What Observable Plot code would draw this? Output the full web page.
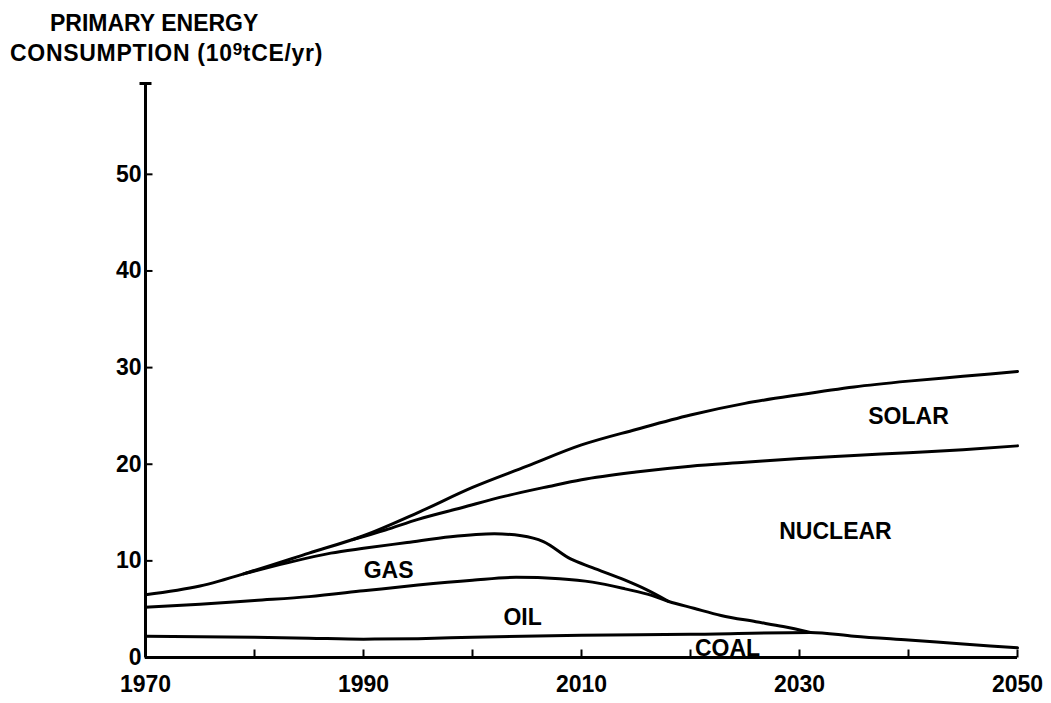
<!DOCTYPE html>
<html>
<head>
<meta charset="utf-8">
<script src="https://cdn.jsdelivr.net/npm/d3@7"></script>
<script src="https://cdn.jsdelivr.net/npm/@observablehq/plot@0.6"></script>
<style>
  html, body { margin: 0; padding: 0; background: #fff; }
  #wrap { width: 1051px; height: 703px; position: relative; overflow: hidden; background: #fff; }
  #title { position: relative; height: 70px; font-family: "Liberation Sans", Arial, sans-serif; font-weight: bold; font-size: 23px; color: #000; }
  #title .l { position: absolute; white-space: nowrap; line-height: 23px; }
  #title sup { font-size: 17px; vertical-align: 6px; line-height: 0; }
</style>
</head>
<body>
<div id="wrap">
  <div id="title">
    <span class="l" style="left:50px;top:12px">PRIMARY ENERGY</span>
    <span class="l" style="left:10px;top:42px;letter-spacing:0.7px">CONSUMPTION (10<sup>9</sup>tCE/yr)</span>
  </div>
  <div id="chart"></div>
</div>
<script>
// ---- data (year, 10^9 tCE/yr) ----
// top of the stack (solar / total)
const solarTop = [[1970,6.5],[1975,7.4],[1980,9.0],[1985,10.8],[1990,12.6],[1995,15.0],[2000,17.6],[2005,19.8],[2010,22.0],[2015,23.6],[2020,25.1],[2025,26.3],[2030,27.2],[2035,28.0],[2040,28.6],[2045,29.1],[2050,29.6]];
// solar / nuclear boundary
const nuclearTop = [[1989,12.2],[1992,13.2],[1995,14.3],[1999,15.5],[2003,16.7],[2007,17.7],[2010,18.4],[2015,19.2],[2020,19.8],[2025,20.2],[2030,20.6],[2035,20.9],[2040,21.2],[2045,21.5],[2050,21.9]];
// nuclear / gas boundary
const gasTop = [[1979,8.65],[1983,9.8],[1987,10.8],[1990,11.3],[1994,11.9],[1998,12.5],[2002,12.8],[2004.5,12.6],[2006.5,12.0],[2009,10.2],[2011,9.3],[2014,8.0],[2016,7.0],[2018,5.8]];
// gas / oil boundary
const oilTop = [[1970,5.2],[1975,5.5],[1980,5.9],[1985,6.3],[1990,6.9],[1995,7.5],[2000,8.0],[2004,8.3],[2008,8.15],[2011,7.8],[2014,7.1],[2016.5,6.4],[2018,5.8],[2020.3,5.1],[2022.8,4.35],[2026,3.7],[2028.5,3.2],[2031,2.6]];
// oil / coal boundary
const coalTop = [[1970,2.2],[1980,2.1],[1985,2.0],[1990,1.9],[1995,1.95],[2000,2.1],[2010,2.3],[2020,2.4],[2031,2.6],[2035,2.2],[2040,1.8],[2045,1.4],[2050,1.0]];

const labelText  = ["SOLAR", "NUCLEAR", "GAS", "OIL", "COAL"];
const labelYear  = [2040, 2033.3, 1992.3, 2004.6, 2023.4];
const labelValue = [24.9, 13.0, 9.0, 4.1, 0.95];

const xTickLabels = [1970, 1990, 2010, 2030, 2050];
const xMinorTicks = [1970, 1980, 1990, 2000, 2010, 2020, 2030, 2040, 2050];
const yTickLabels = [0, 10, 20, 30, 40, 50];
const xDomain = [1970, 2050];
const yDomain = [0, 59.4];

// ---- drawing ----
const FONT = "Liberation Sans, Arial, sans-serif";
const hLine = { draw(ctx, size) { const r = Math.sqrt(size / Math.PI); ctx.moveTo(-r, 0); ctx.lineTo(r, 0); } };
const vLine = { draw(ctx, size) { const r = Math.sqrt(size / Math.PI); ctx.moveTo(0, -r); ctx.lineTo(0, r); } };

const labels = labelText.map((t, i) => ({ t, x: labelYear[i], y: labelValue[i] }));
const curveOpts = { x: d => d[0], y: d => d[1], curve: "monotone-x", stroke: "#000", strokeWidth: 3, strokeLinejoin: "round", strokeLinecap: "round" };
const textStyle = { fontSize: 23, fontWeight: "bold", fontFamily: FONT, fill: "#000" };

const plot = Plot.plot({
  width: 1051,
  height: 633,
  marginLeft: 145,
  marginRight: 34,
  marginTop: 13,
  marginBottom: 46,
  x: { domain: xDomain },
  y: { domain: yDomain },
  marks: [
    Plot.axisX(xTickLabels, { tickSize: 0, tickPadding: 18, tickFormat: "d", label: null, ...textStyle }),
    Plot.axisY(yTickLabels, { tickSize: 0, tickPadding: 4, label: null, ...textStyle }),
    Plot.ruleX([xDomain[0]], { y1: yDomain[0], y2: yDomain[1], stroke: "#000", strokeWidth: 3 }),
    Plot.ruleY([yDomain[0]], { x1: xDomain[0], x2: xDomain[1], stroke: "#000", strokeWidth: 3 }),
    Plot.dot(xMinorTicks, { x: d => d, y: yDomain[0], symbol: vLine, r: 4, dy: -4, fill: "none", stroke: "#000", strokeWidth: 2 }),
    Plot.dot(yTickLabels, { x: xDomain[0], y: d => d, symbol: hLine, r: 4, dx: 3, fill: "none", stroke: "#000", strokeWidth: 2 }),
    Plot.dot([yDomain[1]], { x: xDomain[0], y: d => d, symbol: hLine, r: 6, fill: "none", stroke: "#000", strokeWidth: 3 }),
    Plot.line(solarTop, curveOpts),
    Plot.line(nuclearTop, curveOpts),
    Plot.line(gasTop, curveOpts),
    Plot.line(oilTop, curveOpts),
    Plot.line(coalTop, curveOpts),
    Plot.text(labels, { x: "x", y: "y", text: "t", ...textStyle })
  ]
});
document.getElementById("chart").appendChild(plot);
</script>
</body>
</html>
